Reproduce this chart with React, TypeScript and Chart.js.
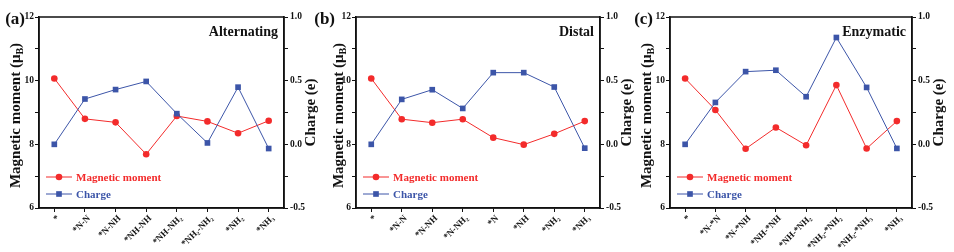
import React, { useEffect, useRef } from 'react';
import { Chart, registerables } from 'chart.js';

Chart.register(...registerables);

// ---------- data ----------
const categoriesA = ['*', '*N-N', '*N-NH', '*NH-NH', '*NH-NH₂', '*NH₂-NH₂', '*NH₂', '*NH₃'];
const magneticA = [10.07, 8.8, 8.69, 7.69, 8.89, 8.72, 8.35, 8.74];
const chargeA = [0.0, 0.356, 0.43, 0.494, 0.241, 0.011, 0.449, -0.033];

const categoriesB = ['*', '*N-N', '*N-NH', '*N-NH₂', '*N', '*NH', '*NH₂', '*NH₃'];
const magneticB = [10.07, 8.79, 8.68, 8.79, 8.21, 7.99, 8.33, 8.73];
const chargeB = [0.0, 0.353, 0.429, 0.282, 0.563, 0.563, 0.45, -0.03];

const categoriesC = ['*', '*N-*N', '*N-*NH', '*NH-*NH', '*NH-*NH₂', '*NH₂-*NH₂', '*NH₂-*NH₃', '*NH₃'];
const magneticC = [10.07, 9.08, 7.86, 8.53, 7.97, 9.86, 7.87, 8.73];
const chargeC = [0.0, 0.329, 0.571, 0.582, 0.374, 0.839, 0.447, -0.032];

const panelLetters = ['(a)', '(b)', '(c)'];
const panelTitles = ['Alternating', 'Distal', 'Enzymatic'];
const seriesNames = ['Magnetic moment', 'Charge'];
const leftAxisTitle = 'Magnetic moment (μ';
const leftAxisSub = 'B';
const rightAxisTitle = 'Charge (e)';
const leftTicks = { min: 6, max: 12, step: 1, labelEvery: 2 };
const rightTicks = { min: -0.5, max: 1.0, step: 0.25, labelEvery: 0.5 };

// ---------- style / layout ----------
const FONT = '"Liberation Serif", "Times New Roman", "DejaVu Serif", serif';
const RED = '#f32b2b';
const BLUE = '#3c55a8';
const INK = '#111';

type Geo = {
  canvasLeft: number;
  width: number;
  plotL: number;
  plotR: number;
  letterRight: number;
  leftTitleX: number;
};

const geos: Geo[] = [
  { canvasLeft: 0, width: 320, plotL: 39, plotR: 284, letterRight: 25, leftTitleX: 16.5 },
  { canvasLeft: 310, width: 326, plotL: 356, plotR: 600, letterRight: 335, leftTitleX: 339 },
  { canvasLeft: 628, width: 326, plotL: 670, plotR: 912, letterRight: 653, leftTitleX: 647 },
];

const HEIGHT = 252;
const PLOT_TOP = 17;
const PLOT_BOTTOM = 208;

const panelData = [
  { categories: categoriesA, magnetic: magneticA, charge: chargeA },
  { categories: categoriesB, magnetic: magneticB, charge: chargeB },
  { categories: categoriesC, magnetic: magneticC, charge: chargeC },
];

function makeDecor(idx: number) {
  const g = geos[idx];
  return {
    id: 'decor' + idx,
    afterDraw(chart: any) {
      const ctx: CanvasRenderingContext2D = chart.ctx;
      const { left, right, top, bottom } = chart.chartArea;
      ctx.save();
      // frame
      ctx.strokeStyle = INK;
      ctx.lineWidth = 1.5;
      ctx.strokeRect(left, top, right - left, bottom - top);

      // rotated category labels
      const xs = chart.scales.x;
      const labels: string[] = chart.data.labels;
      ctx.fillStyle = INK;
      ctx.font = `bold 9px ${FONT}`;
      ctx.textAlign = 'right';
      ctx.textBaseline = 'middle';
      labels.forEach((lab, i) => {
        const px = xs.getPixelForValue(i);
        ctx.save();
        ctx.translate(px + 4, bottom + 9);
        ctx.rotate(-Math.PI / 4);
        ctx.fillText(lab, 0, 0);
        ctx.restore();
      });

      // panel letter
      ctx.fillStyle = INK;
      ctx.font = `bold 17px ${FONT}`;
      ctx.textAlign = 'right';
      ctx.textBaseline = 'middle';
      ctx.fillText(panelLetters[idx], g.letterRight - g.canvasLeft, 20);

      // panel title
      ctx.font = `bold 14px ${FONT}`;
      ctx.textAlign = 'right';
      ctx.textBaseline = 'alphabetic';
      ctx.fillText(panelTitles[idx], right - 6, top + 19);

      // left axis title with subscript
      ctx.save();
      ctx.translate(g.leftTitleX - g.canvasLeft, (top + bottom) / 2 + 3);
      ctx.rotate(-Math.PI / 2);
      ctx.textBaseline = 'middle';
      ctx.textAlign = 'left';
      const mainFont = `bold 15px ${FONT}`;
      const subFont = `bold 10px ${FONT}`;
      ctx.font = mainFont;
      const w1 = ctx.measureText(leftAxisTitle).width;
      const w3 = ctx.measureText(')').width;
      ctx.font = subFont;
      const w2 = ctx.measureText(leftAxisSub).width;
      let x = -(w1 + w2 + w3) / 2;
      ctx.font = mainFont;
      ctx.fillText(leftAxisTitle, x, 0);
      x += w1;
      ctx.font = subFont;
      ctx.fillText(leftAxisSub, x, 4);
      x += w2;
      ctx.font = mainFont;
      ctx.fillText(')', x, 0);
      ctx.restore();

      // right axis title
      ctx.save();
      ctx.translate(right + 27, (top + bottom) / 2);
      ctx.rotate(-Math.PI / 2);
      ctx.font = `bold 15px ${FONT}`;
      ctx.textAlign = 'center';
      ctx.textBaseline = 'middle';
      ctx.fillText(rightAxisTitle, 0, 0);
      ctx.restore();

      // legend
      const items = [
        { y: bottom - 31, color: RED, style: 'circle', r: 3.3 },
        { y: bottom - 14, color: BLUE, style: 'rect', r: 4 },
      ];
      items.forEach((it, i) => {
        const x0 = left + 7;
        const x1 = left + 33;
        ctx.strokeStyle = it.color;
        ctx.lineWidth = 1;
        ctx.beginPath();
        ctx.moveTo(x0, it.y);
        ctx.lineTo(x1, it.y);
        ctx.stroke();
        ctx.fillStyle = it.color;
        ctx.beginPath();
        const cx = (x0 + x1) / 2;
        if (it.style === 'circle') {
          ctx.arc(cx, it.y, it.r, 0, Math.PI * 2);
        } else {
          const s = it.r * Math.SQRT1_2;
          ctx.rect(cx - s, it.y - s, 2 * s, 2 * s);
        }
        ctx.fill();
        ctx.font = `bold 11px ${FONT}`;
        ctx.textAlign = 'left';
        ctx.textBaseline = 'middle';
        ctx.fillText(seriesNames[i], left + 37, it.y + 1);
      });
      ctx.restore();
    },
  };
}

function buildConfig(idx: number): any {
  const g = geos[idx];
  const d = panelData[idx];
  const tickFont = { family: FONT, size: 9.5, weight: 'bold' as const };
  const leftW = g.plotL - g.canvasLeft;
  const rightW = g.canvasLeft + g.width - g.plotR;
  return {
    type: 'line',
    data: {
      labels: d.categories,
      datasets: [
        {
          label: seriesNames[0],
          data: d.magnetic,
          yAxisID: 'y',
          borderColor: RED,
          backgroundColor: RED,
          borderWidth: 1,
          pointStyle: 'circle',
          pointRadius: 3.3,
          pointBorderWidth: 0,
          order: 1,
        },
        {
          label: seriesNames[1],
          data: d.charge,
          yAxisID: 'y1',
          borderColor: BLUE,
          backgroundColor: BLUE,
          borderWidth: 1,
          pointStyle: 'rect',
          pointRadius: 4,
          pointBorderWidth: 0,
          order: 0,
        },
      ],
    },
    options: {
      animation: false,
      responsive: false,
      maintainAspectRatio: false,
      events: [],
      layout: { padding: { top: PLOT_TOP, left: 0, right: 0, bottom: 0 }, autoPadding: false },
      plugins: { legend: { display: false }, tooltip: { enabled: false }, title: { display: false } },
      scales: {
        x: {
          type: 'category',
          offset: true,
          grid: { offset: false, drawOnChartArea: false, drawTicks: true, tickLength: 4, color: INK, lineWidth: 1 },
          border: { display: true, color: INK, width: 1.5 },
          ticks: {
            autoSkip: false,
            maxRotation: 45,
            minRotation: 45,
            padding: 1,
            color: 'rgba(0,0,0,0)',
            font: { family: FONT, size: 9, weight: 'bold' },
          },
          afterFit: (s: any) => {
            s.height = HEIGHT - PLOT_BOTTOM;
          },
        },
        y: {
          type: 'linear',
          position: 'left',
          min: leftTicks.min,
          max: leftTicks.max,
          grid: { drawOnChartArea: false, drawTicks: true, tickLength: 4, color: INK, lineWidth: 1 },
          border: { display: true, color: INK, width: 1.5 },
          ticks: {
            stepSize: leftTicks.step,
            autoSkip: false,
            padding: 1,
            color: INK,
            font: tickFont,
            callback: (v: number) => (Math.abs(v % leftTicks.labelEvery) < 1e-6 ? String(v) : ''),
          },
          afterFit: (s: any) => {
            s.width = leftW;
          },
        },
        y1: {
          type: 'linear',
          position: 'right',
          min: rightTicks.min,
          max: rightTicks.max,
          grid: { drawOnChartArea: false, drawTicks: true, tickLength: 4, color: INK, lineWidth: 1 },
          border: { display: true, color: INK, width: 1.5 },
          ticks: {
            stepSize: rightTicks.step,
            autoSkip: false,
            padding: 2,
            color: INK,
            font: tickFont,
            callback: (v: number) => {
              const q = v / rightTicks.labelEvery;
              return Math.abs(q - Math.round(q)) < 1e-6 ? v.toFixed(1) : '';
            },
          },
          afterFit: (s: any) => {
            s.width = rightW;
          },
        },
      },
    },
    plugins: [makeDecor(idx)],
  };
}

function PanelChart({ idx }: { idx: number }) {
  const ref = useRef<HTMLCanvasElement | null>(null);
  useEffect(() => {
    if (!ref.current) return;
    const chart = new Chart(ref.current, buildConfig(idx));
    return () => chart.destroy();
  }, [idx]);
  const g = geos[idx];
  return (
    <canvas
      ref={ref}
      width={g.width}
      height={HEIGHT}
      style={{ position: 'absolute', left: g.canvasLeft, top: 0, width: g.width, height: HEIGHT }}
    />
  );
}

export default function App() {
  return (
    <div
      style={{
        position: 'absolute',
        left: 0,
        top: 0,
        width: 954,
        height: HEIGHT,
        background: '#fff',
        overflow: 'hidden',
      }}
    >
      {[0, 1, 2].map((i) => (
        <PanelChart key={i} idx={i} />
      ))}
    </div>
  );
}
